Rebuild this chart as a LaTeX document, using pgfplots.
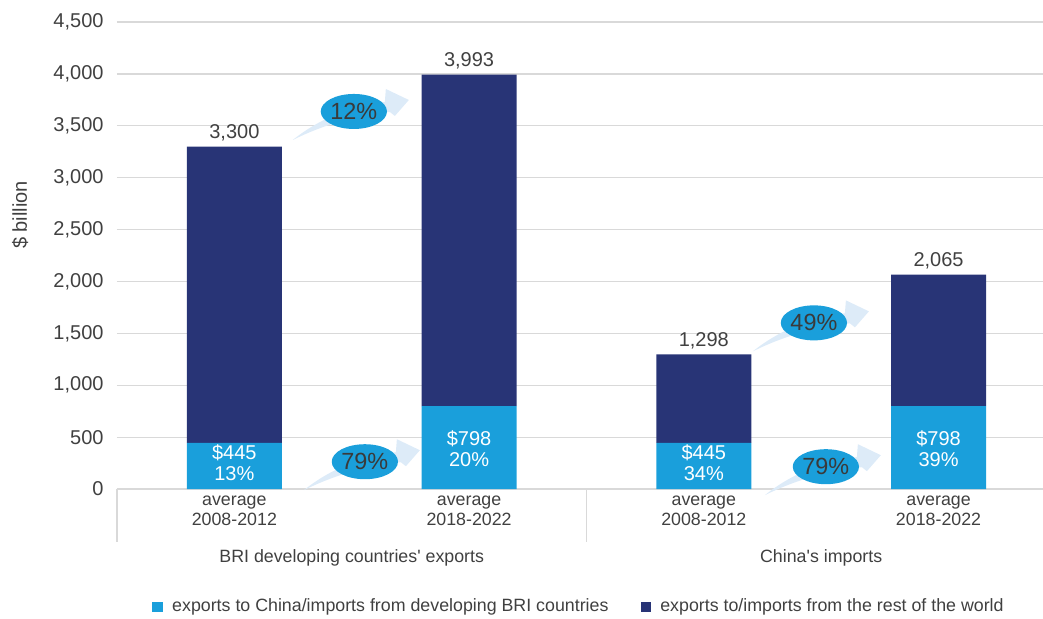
\documentclass[border=0pt]{standalone}
\usepackage{pgfplots}
\pgfplotsset{compat=1.18}
\usepackage{fontspec}
\setmainfont{Liberation Sans}
\usetikzlibrary{shapes.geometric}

\definecolor{lblue}{HTML}{1A9FDB}
\definecolor{navy}{HTML}{283476}
\definecolor{pale}{HTML}{DDEBF8}
\definecolor{txt}{HTML}{404040}
\definecolor{gridc}{HTML}{D9D9D9}

% growth arrow + bubble, centred on a named coordinate
\newcommand{\growth}[2]{%
  \fill[pale, shift={(#1)}] (-30.5pt,-14.25pt)
    .. controls (-18pt,-4pt) and (0pt,3.5pt) .. (15.5pt,4.75pt)
    -- (16pt,11.25pt) -- (27.5pt,5.75pt) -- (20.5pt,-2.25pt) -- (18pt,-0.25pt)
    .. controls (2pt,-1.5pt) and (-16pt,-7pt) .. cycle;
  \node[ellipse, fill=lblue, minimum width=32.5pt, minimum height=17.5pt,
    inner sep=0pt, text=txt!90!black, font=\fontsize{11.7}{12}\selectfont]
    at (#1) {#2};}

\begin{document}
\begin{tikzpicture}[font=\fontsize{8.9}{10}\selectfont, text=txt]
\path[use as bounding box] (-58.5pt,-64.5pt) rectangle (463pt,244.5pt);
\begin{axis}[
    at={(0pt,0pt)}, anchor=south west,
    scale only axis, width=463pt, height=233.5pt,
    ybar stacked, bar width=47.5pt,
    xmin=-0.5, xmax=3.445,
    ymin=0, ymax=4500,
    ytick={0,500,...,4500},
    xtick={0,1,2,3},
    xticklabels={{average\\2008-2012},{average\\2018-2022},{average\\2008-2012},{average\\2018-2022}},
    xticklabel style={align=center, text=txt},
    yticklabel style={text=txt, xshift=-3.2pt, font=\fontsize{10}{11}\selectfont},
    /pgf/number format/assume math mode=true,
    /pgf/number format/1000 sep={,},
    axis line style={draw=none},
    major tick length=0pt,
    ymajorgrids, grid style={gridc, line width=0.6pt},
    ylabel={\$ billion},
    ylabel style={at={(rel axis cs:-0.1047,0.587)}, anchor=center, text=txt,
        font=\fontsize{10}{11}\selectfont},
    clip=false,
    legend style={at={(0.5,-0.2527)}, anchor=center, draw=none, fill=none,
        legend columns=2, text=txt,
        /tikz/every even column/.append style={column sep=14pt}},
    legend image code/.code={\fill[#1] (0pt,-2.7pt) rectangle (5.4pt,2.7pt);
        \path (7.9pt,0pt);},
]
\addplot[fill=lblue, draw=none] coordinates {(0,445)(1,798)(2,445)(3,798)};
\addplot[fill=navy, draw=none] coordinates {(0,2855)(1,3195)(2,853)(3,1267)};
\legend{exports to China/imports from developing BRI countries,
        exports to/imports from the rest of the world}

% group separators below the baseline
\draw[gridc, line width=0.6pt] (axis cs:-0.5,0) -- ++(0pt,-26.5pt);
\draw[gridc, line width=0.6pt] (axis cs:1.5,0) -- ++(0pt,-26.5pt);
\node at (axis cs:0.5,0) [yshift=-34.5pt] {BRI developing countries\textquotesingle{} exports};
\node at (axis cs:2.5,0) [yshift=-34.5pt] {China\textquotesingle{}s imports};

% anchor points for the annotations drawn after the axis
\coordinate (t0) at (axis cs:0,3300);
\coordinate (t1) at (axis cs:1,3993);
\coordinate (t2) at (axis cs:2,1298);
\coordinate (t3) at (axis cs:3,2065);
\coordinate (v0) at (axis cs:0,255);
\coordinate (v1) at (axis cs:1,390);
\coordinate (v2) at (axis cs:2,255);
\coordinate (v3) at (axis cs:3,390);
\coordinate (g1) at (axis cs:0.509,3638);
\coordinate (g2) at (axis cs:0.556,263);
\coordinate (g3) at (axis cs:2.469,1601);
\coordinate (g4) at (axis cs:2.52,215);
\end{axis}

% totals
\begin{scope}[font=\fontsize{10}{11}\selectfont]
\node[anchor=base, yshift=4pt] at (t0) {3,300};
\node[anchor=base, yshift=4pt] at (t1) {3,993};
\node[anchor=base, yshift=4pt] at (t2) {1,298};
\node[anchor=base, yshift=4pt] at (t3) {2,065};
\end{scope}

% values inside the light segments
\begin{scope}[every node/.style={align=center, text=white, inner sep=0pt,
    font=\fontsize{10}{10.3}\selectfont}]
\node at (v0) {\$445\\13\%};
\node at (v1) {\$798\\20\%};
\node at (v2) {\$445\\34\%};
\node at (v3) {\$798\\39\%};
\end{scope}

% growth bubbles
\growth{g1}{12\%}
\growth{g2}{79\%}
\growth{g3}{49\%}
\growth{g4}{79\%}
\end{tikzpicture}
\end{document}
